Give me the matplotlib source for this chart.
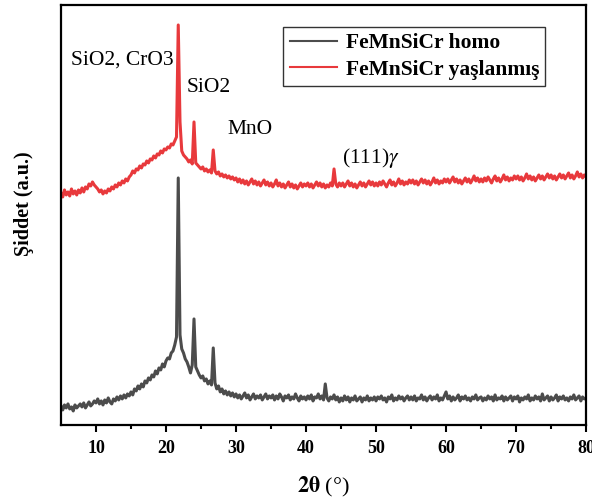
#XRD patterns of the two FeMnSiCr samples

import numpy as np
import matplotlib.pyplot as plt


#2theta scan: 5 to 80 deg, 0.25 deg step
theta = np.arange(5, 80.001, 0.25)

#homogenised sample (gray)
homo = [
    19, 15, 20, 17, 21, 16, 18, 14, 20, 17, 19, 21, 18, 22, 17, 20, 23, 19, 21, 24,
    22, 26, 21, 24, 20, 25, 22, 27, 23, 21, 26, 24, 28, 25, 29, 26, 30, 27, 31, 29,
    33, 30, 36, 34, 39, 36, 41, 38, 44, 42, 47, 45, 50, 48, 54, 51, 57, 55, 61, 58,
    64, 67, 66, 72, 74, 80, 88, 247, 90, 76, 72, 66, 63, 58, 52, 60, 106, 58, 54, 50,
    47, 49, 44, 46, 41, 44, 40, 77, 42, 36, 39, 33, 36, 31, 34, 30, 33, 29, 32, 28,
    31, 27, 30, 26, 29, 32, 27, 30, 25, 28, 31, 26, 29, 27, 30, 25, 28, 31, 26, 29,
    27, 30, 25, 29, 26, 31, 28, 24, 29, 27, 30, 25, 28, 26, 31, 27, 24, 29, 26, 28,
    25, 29, 26, 30, 24, 28, 27, 31, 26, 29, 25, 41, 27, 24, 28, 26, 30, 25, 28, 23,
    27, 24, 29, 25, 28, 23, 27, 25, 29, 24, 26, 28, 23, 27, 25, 29, 24, 27, 25, 28,
    24, 28, 26, 29, 25, 27, 23, 28, 26, 30, 24, 27, 25, 29, 26, 28, 24, 27, 29, 25,
    28, 25, 29, 24, 27, 26, 30, 25, 28, 24, 27, 29, 25, 28, 26, 30, 24, 27, 25, 29,
    33, 26, 29, 24, 28, 25, 27, 30, 24, 28, 26, 29, 25, 27, 24, 28, 26, 30, 25, 27,
    28, 24, 27, 25, 29, 26, 28, 24, 30, 25, 27, 26, 29, 24, 28, 25, 27, 29, 24, 28,
    26, 29, 23, 27, 25, 28, 26, 30, 24, 27, 25, 29, 26, 28, 24, 31, 25, 27, 29, 24,
    28, 25, 27, 30, 24, 28, 26, 29, 25, 27, 24, 28, 26, 30, 25, 27, 29, 24, 28, 26,
    27]

#aged sample (red), already shifted up
aged = [
    232, 228, 235, 230, 233, 229, 236, 231, 234, 230, 235, 232, 237, 233, 238, 236, 241, 239, 243, 240,
    238, 236, 233, 235, 231, 234, 232, 236, 234, 238, 236, 240, 238, 242, 240, 244, 242, 246, 244, 248,
    250, 254, 252, 256, 255, 259, 257, 261, 260, 264, 262, 266, 265, 269, 267, 271, 270, 274, 272, 276,
    275, 278, 277, 281, 280, 284, 288, 400, 303, 274, 270, 268, 266, 263, 265, 261, 303, 262, 260, 258,
    256, 258, 254, 256, 253, 255, 252, 275, 254, 251, 253, 249, 251, 248, 250, 247, 249, 246, 248, 245,
    247, 243, 246, 242, 245, 241, 244, 240, 243, 246, 241, 244, 240, 243, 239, 242, 245, 240, 243, 239,
    242, 238, 241, 245, 239, 242, 238, 241, 237, 240, 243, 238, 241, 237, 240, 236, 239, 242, 238, 241,
    239, 242, 238, 241, 237, 240, 243, 239, 242, 238, 241, 237, 240, 238, 242, 239, 256, 241, 238, 242,
    239, 242, 238, 241, 244, 239, 242, 238, 241, 237, 240, 243, 239, 242, 238, 241, 244, 240, 243, 239,
    242, 239, 243, 240, 244, 241, 238, 242, 245, 240, 243, 239, 242, 246, 241, 244, 240, 243, 241, 245,
    242, 245, 241, 244, 240, 243, 246, 242, 245, 241, 244, 240, 243, 247, 242, 245, 241, 244, 242, 246,
    243, 246, 242, 245, 248, 243, 246, 242, 245, 241, 244, 247, 243, 246, 242, 245, 249, 244, 247, 243,
    246, 243, 247, 244, 248, 245, 242, 246, 249, 244, 247, 243, 246, 250, 245, 248, 244, 247, 245, 249,
    246, 249, 245, 248, 244, 247, 251, 246, 249, 245, 248, 244, 247, 250, 246, 249, 245, 248, 251, 247,
    250, 246, 249, 245, 248, 251, 247, 250, 246, 249, 252, 247, 250, 246, 249, 253, 248, 251, 247, 250,
    248]

labels = ["FeMnSiCr homo", "FeMnSiCr yaşlanmış"]

#peak labels (text, x, y)
peaks = [
    ("SiO2, CrO3", 6.5, 365),
    ("SiO2", 23.0, 337),
    ("MnO", 28.8, 295),
    ("(111)$\\gamma$", 45.2, 267),
]


plt.rcParams['font.family'] = ['Liberation Serif', 'DejaVu Serif']
plt.rcParams['mathtext.fontset'] = 'stix'

fig = plt.figure(figsize=(5.92, 4.97), dpi=100)
ax = fig.add_axes([0.103, 0.145, 0.887, 0.845])

ax.plot(theta, homo, color="#4c4c4c", lw=2.2, label=labels[0])
ax.plot(theta, aged, color="#e8393c", lw=2.2, label=labels[1])

for t, x, y in peaks:
    ax.text(x, y, t, fontsize=15.5, va="center", ha="left")

ax.set_xlim(5, 80)
ax.set_ylim(0, 420)
ax.set_yticks([])
ax.set_xticks(range(10, 81, 10))
ax.set_xticks(range(15, 80, 10), minor=True)
ax.tick_params(axis="x", which="major", length=5, width=1.5, labelsize=13,
               direction="out", pad=6)
ax.tick_params(axis="x", which="minor", length=3, width=1.5, direction="out")
for lab in ax.get_xticklabels():
    lab.set_fontweight("bold")
for s in ax.spines.values():
    s.set_linewidth(1.6)

ax.set_ylabel("Şiddet (a.u.)", fontsize=14.5, fontweight="bold")
ax.yaxis.set_label_coords(-0.052, 0.526)
ax.set_xlabel(r"$\mathbf{2\theta}$ (°)", fontsize=16)
ax.xaxis.set_label_coords(0.50, -0.118)

leg = ax.legend(loc="upper left", bbox_to_anchor=(0.423, 0.948), fancybox=False,
                edgecolor="black", prop={'weight': 'bold', 'size': 15.5},
                handlelength=2.2, borderpad=0.3, labelspacing=0.3, handletextpad=0.4,
                borderaxespad=0)
leg.get_frame().set_linewidth(1.0)
for h in leg.get_lines():
    h.set_linewidth(1.5)

plt.savefig("out.png", dpi=100)
